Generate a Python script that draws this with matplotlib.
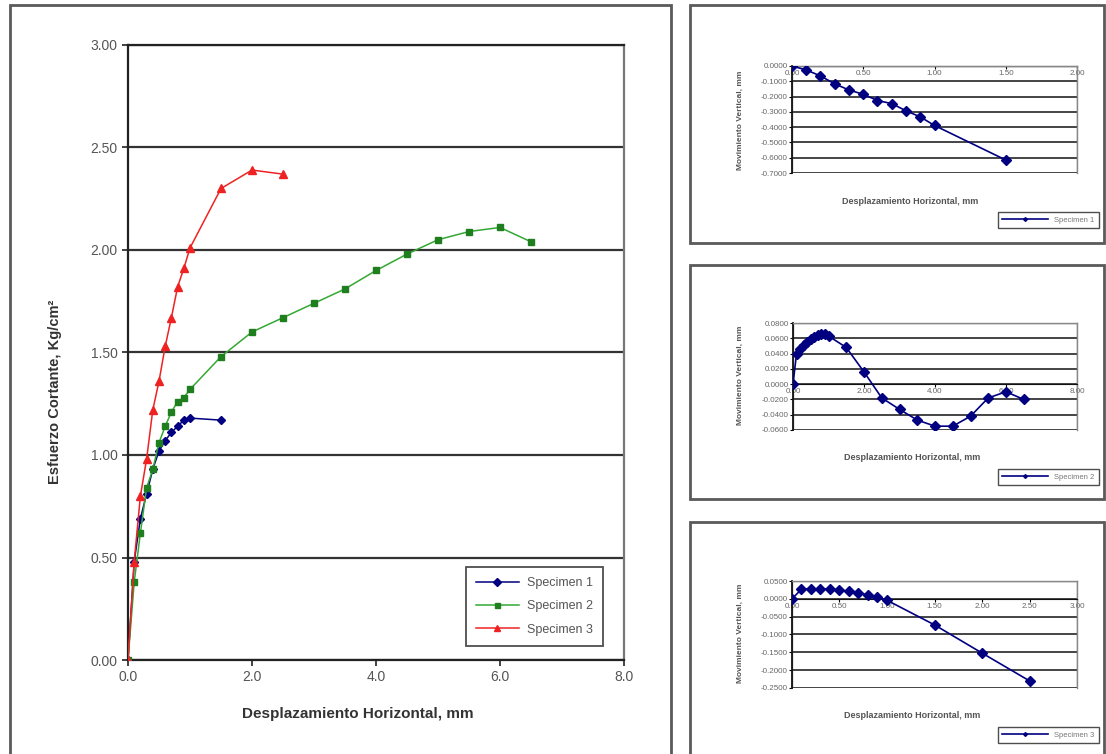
import matplotlib
matplotlib.use("Agg")
import matplotlib.pyplot as plt
from matplotlib.patches import Rectangle
import numpy as np

plt.rcParams['font.family'] = ['Liberation Sans', 'DejaVu Sans']

# ---------------- data ----------------
spec1_x = [0, 0.1, 0.2, 0.3, 0.4, 0.5, 0.6, 0.7, 0.8, 0.9, 1.0, 1.5]
spec1_y = [0, 0.48, 0.69, 0.81, 0.93, 1.02, 1.07, 1.11, 1.14, 1.17, 1.18, 1.17]

spec2_x = [0, 0.1, 0.2, 0.3, 0.4, 0.5, 0.6, 0.7, 0.8, 0.9, 1.0,
           1.5, 2.0, 2.5, 3.0, 3.5, 4.0, 4.5, 5.0, 5.5, 6.0, 6.5]
spec2_y = [0, 0.38, 0.62, 0.84, 0.93, 1.06, 1.14, 1.21, 1.26, 1.28, 1.32,
           1.48, 1.60, 1.67, 1.74, 1.81, 1.90, 1.98, 2.05, 2.09, 2.11, 2.04]

spec3_x = [0, 0.1, 0.2, 0.3, 0.4, 0.5, 0.6, 0.7, 0.8, 0.9, 1.0, 1.5, 2.0, 2.5]
spec3_y = [0, 0.48, 0.80, 0.98, 1.22, 1.36, 1.53, 1.67, 1.82, 1.91, 2.01, 2.30, 2.39, 2.37]

mov1_y = [0, -0.026, -0.065, -0.117, -0.157, -0.185, -0.226, -0.246, -0.293, -0.333, -0.389, -0.615]
mov2_y = [0, 0.040, 0.046, 0.051, 0.055, 0.059, 0.062, 0.064, 0.065, 0.065, 0.063,
          0.048, 0.016, -0.018, -0.033, -0.047, -0.055, -0.055, -0.042, -0.018, -0.010, -0.020]
mov3_y = [0, 0.027, 0.028, 0.028, 0.027, 0.025, 0.021, 0.017, 0.011, 0.004, -0.004, -0.073, -0.152, -0.230]

labels = ["Specimen 1", "Specimen 2", "Specimen 3"]
main_xticks = [0, 2, 4, 6, 8]
main_yticks = [0, 0.5, 1.0, 1.5, 2.0, 2.5, 3.0]

W, H = 1106, 754
fig = plt.figure(figsize=(W / 100, H / 100), dpi=100)


def fx(x):
    return x / W


def fy(y):
    return 1 - y / H


def rect(x0, y0, x1, y1):
    return [fx(x0), fy(y1), (x1 - x0) / W, (y1 - y0) / H]


# panel borders
for (x0, y0, x1, y1) in [(10, 5, 671, 770), (690, 5, 1104, 243),
                         (690, 265, 1104, 499), (690, 522, 1104, 770)]:
    fig.patches.append(Rectangle((fx(x0), fy(y1)), (x1 - x0) / W, (y1 - y0) / H,
                                 transform=fig.transFigure, fill=False,
                                 edgecolor='#5a5a5a', lw=2, clip_on=False))

# ---------------- main chart ----------------
ax = fig.add_axes(rect(128, 45, 624, 660))
ax.plot(spec1_x, spec1_y, color='#000080', marker='D', ms=4.5, lw=1.1, label=labels[0], zorder=3)
ax.plot(spec2_x, spec2_y, color='#33a833', marker='s', ms=4.5, mfc='#1f7f1f', mec='#1f7f1f',
        lw=1.1, label=labels[1], zorder=3)
ax.plot(spec3_x, spec3_y, color='#ee2222', marker='^', ms=6, lw=1.1, label=labels[2], zorder=4)
ax.set_xlim(0, 8)
ax.set_ylim(0, 3)
ax.set_xticks(main_xticks)
ax.set_xticklabels([f"{v:.1f}" for v in main_xticks])
ax.set_yticks(main_yticks)
ax.set_yticklabels([f"{v:.2f}" for v in main_yticks])
ax.yaxis.grid(True, color='#333333', lw=1.6)
ax.set_axisbelow(True)
ax.tick_params(labelsize=10, colors='#222222', labelcolor='#555555', length=4, width=1.2, direction='out')
for s in ax.spines.values():
    s.set_color('#222222')
    s.set_linewidth(1.6)
ax.spines['right'].set_color('#777777')
leg = ax.legend(loc='lower right', bbox_to_anchor=(fx(609), fy(652)),
                bbox_transform=fig.transFigure, fontsize=9, frameon=True,
                fancybox=False, edgecolor='#222222', handlelength=3.5,
                labelspacing=0.9, borderpad=0.8, handletextpad=0.6, markerscale=0.8)
leg.get_frame().set_linewidth(1.3)
for t in leg.get_texts():
    t.set_color('#555555')
fig.text(fx(358), fy(714), "Desplazamiento Horizontal, mm", ha='center', va='center',
         fontsize=11, fontweight='bold', color='#333333')
fig.text(fx(55), fy(392), "Esfuerzo Cortante, Kg/cm²", ha='center', va='center',
         rotation=90, fontsize=10.5, fontweight='bold', color='#333333')


# ---------------- small charts ----------------
def small(r, x, y, xlim, xticks, ylim, yticks, lab, xl_pos, yl_pos, leg_pos):
    a = fig.add_axes(r)
    a.plot(x, y, color='#000080', marker='D', ms=5.5, lw=1.2, label=lab, zorder=3)
    a.set_xlim(*xlim)
    a.set_ylim(*ylim)
    a.set_xticks(xticks)
    a.set_xticklabels([f"{v:.2f}" for v in xticks])
    a.set_yticks(yticks)
    a.set_yticklabels([f"{v:.4f}".replace("-0.0000", "0.0000") for v in yticks])
    a.yaxis.grid(True, color='#444444', lw=1.4)
    a.set_axisbelow(True)
    a.tick_params(labelsize=5.8, labelcolor='#666666', length=2, width=0.8, pad=1)
    a.spines['bottom'].set_position(('data', 0))
    a.spines['bottom'].set_color('#111111')
    a.spines['left'].set_color('#111111')
    a.spines['left'].set_linewidth(1.3)
    for k in ('top', 'right'):
        a.spines[k].set_color('#888888')
        a.spines[k].set_linewidth(1.0)
    a.add_patch(Rectangle((0, 0), 1, 1, transform=a.transAxes, fill=False,
                          edgecolor='#888888', lw=1.0, zorder=0))
    fig.text(fx(xl_pos[0]), fy(xl_pos[1]), "Desplazamiento Horizontal, mm", ha='center',
             va='center', fontsize=6.5, fontweight='bold', color='#555555')
    fig.text(fx(yl_pos[0]), fy(yl_pos[1]), "Movimiento Vertical, mm", ha='center',
             va='center', rotation=90, fontsize=6, fontweight='bold', color='#555555')
    lg = a.legend(loc='lower right', bbox_to_anchor=(fx(leg_pos[0]), fy(leg_pos[1])),
                  bbox_transform=fig.transFigure, fontsize=5.5, frameon=True,
                  fancybox=False, edgecolor='#222222', handlelength=6,
                  borderpad=0.6, markerscale=0.35)
    lg.get_frame().set_linewidth(1.0)
    for t in lg.get_texts():
        t.set_color('#777777')
    return a


small(rect(792, 66, 1077, 173), spec1_x, mov1_y, (0, 2), [0, 0.5, 1.0, 1.5, 2.0],
      (-0.7, 0), list(np.round(np.arange(-0.7, 0.001, 0.1), 2)), labels[0],
      (910, 202), (740, 120), (1103, 232))
small(rect(793, 323, 1077, 430), spec2_x, mov2_y, (0, 8), [0, 2, 4, 6, 8],
      (-0.06, 0.08), list(np.round(np.arange(-0.06, 0.0801, 0.02), 2)), labels[1],
      (912, 458), (740, 375), (1103, 489))
small(rect(792, 581, 1077, 688), spec3_x, mov3_y, (0, 3), [0, 0.5, 1.0, 1.5, 2.0, 2.5, 3.0],
      (-0.25, 0.05), list(np.round(np.arange(-0.25, 0.0501, 0.05), 2)), labels[2],
      (912, 715), (740, 633), (1103, 747))

fig.savefig("out.png", dpi=100)
